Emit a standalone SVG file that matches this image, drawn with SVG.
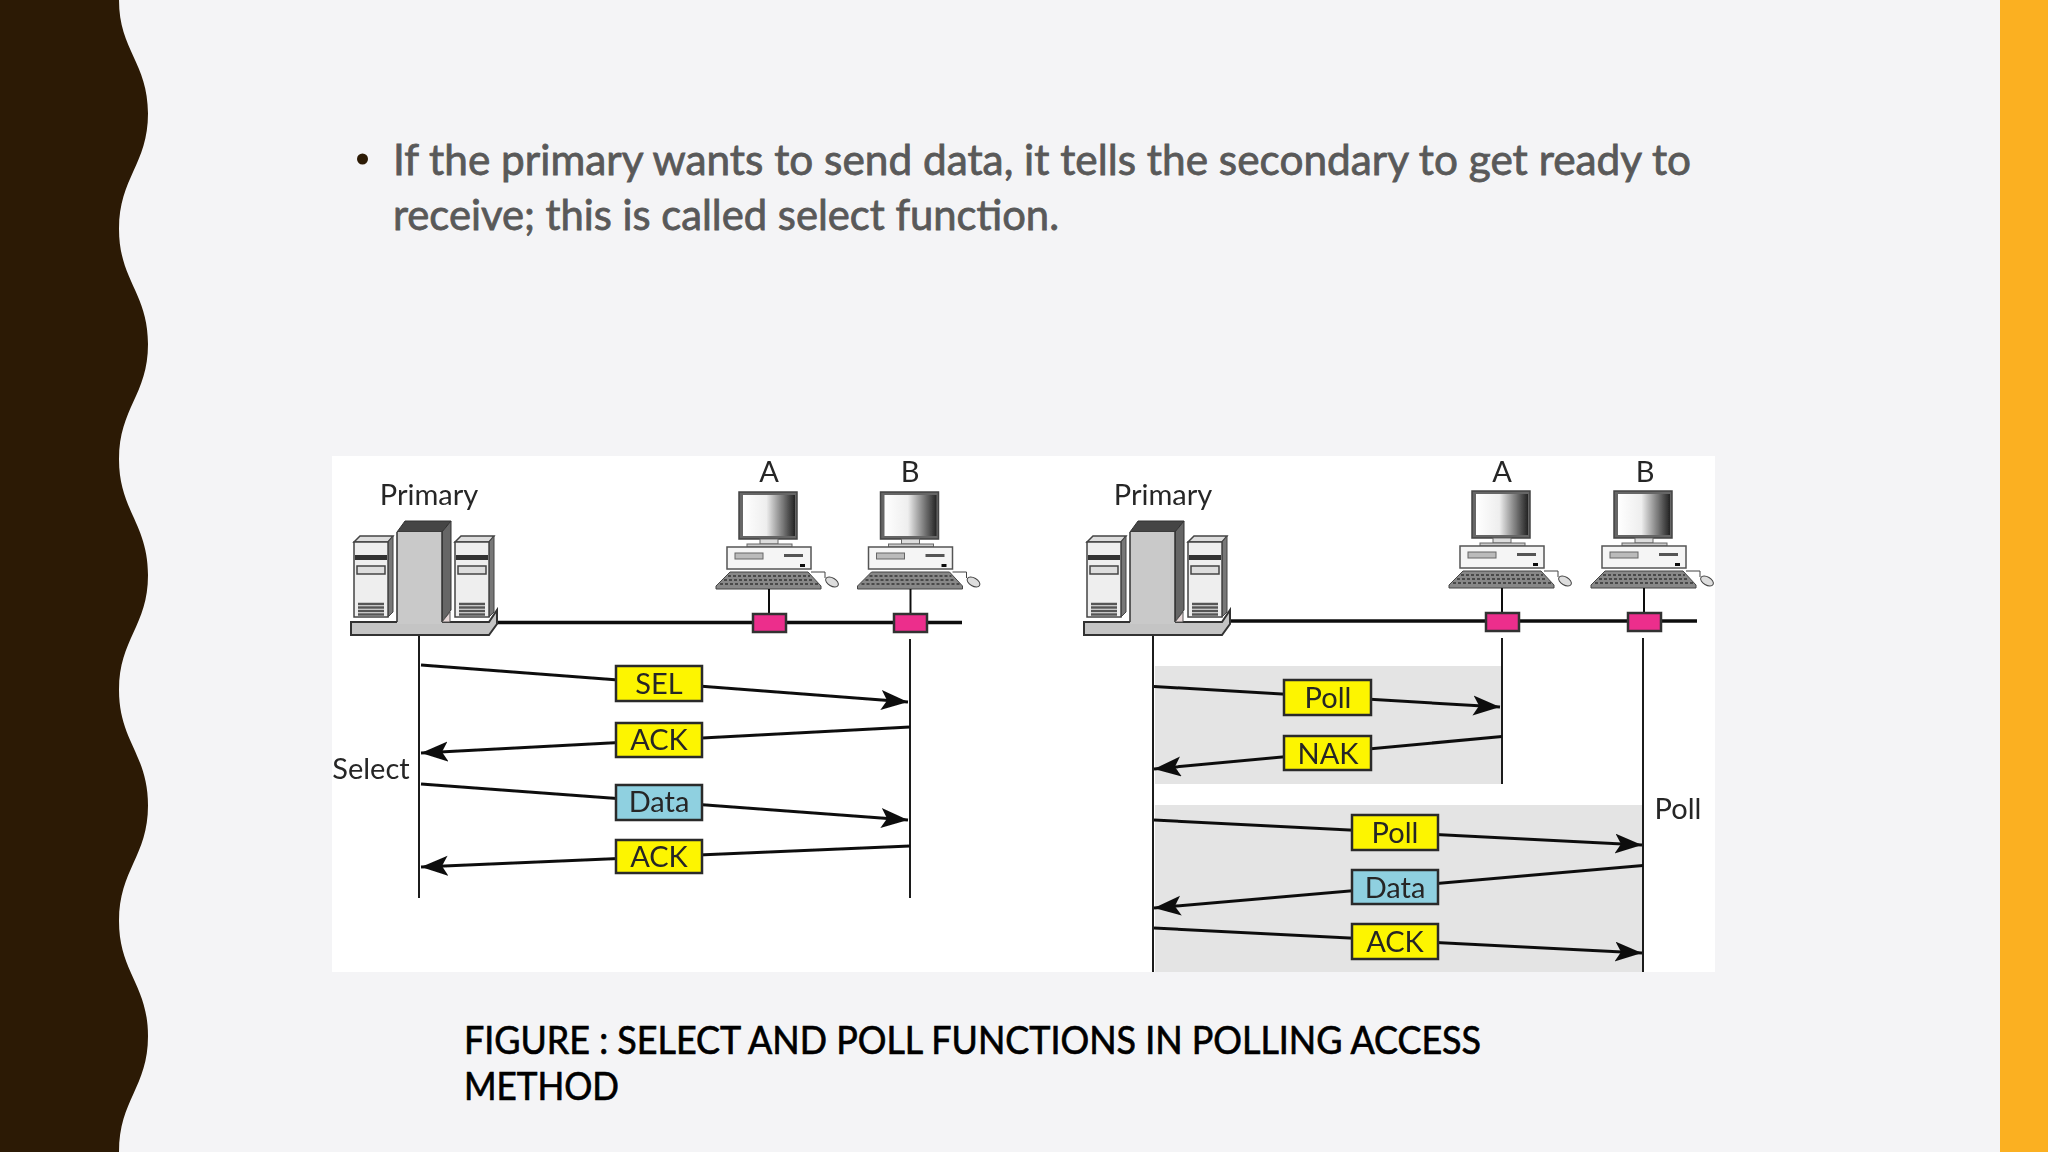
<svg xmlns="http://www.w3.org/2000/svg" xmlns:xlink="http://www.w3.org/1999/xlink" width="2048" height="1152" viewBox="0 0 2048 1152">
<style>
.lab{font-family:Lato,"Noto Sans",sans-serif;font-size:29px;fill:#262626;text-anchor:middle}
.ln{stroke:#1c1c1c;stroke-width:2;fill:none}
.arr{stroke:#111;stroke-width:3;fill:none;marker-end:url(#ah)}
.box{stroke:#2a2a2a;stroke-width:2.500}
.y{fill:#fdf500}.c{fill:#8fd0e0}
.pink{fill:#ec2f8c;stroke:#333;stroke-width:2.500}
.body{font-family:Lato,"Noto Sans",sans-serif;font-size:42px;fill:#595959;stroke:#595959;stroke-width:.8}
.cap{font-family:Lato,"Noto Sans",sans-serif;font-size:38px;fill:#000;stroke:#000;stroke-width:.7}
.soft{filter:url(#soft)}
</style>
<defs>
<filter id="soft" x="0" y="0" width="100%" height="100%"><feGaussianBlur stdDeviation="0.6"/></filter>
<marker id="ah" markerUnits="userSpaceOnUse" markerWidth="32" markerHeight="24" refX="27" refY="10" orient="auto"><path d="M0 0L27 10L0 20L6 10Z" fill="#111"/></marker>
<linearGradient id="scr"><stop offset="0" stop-color="#fff"/><stop offset=".45" stop-color="#eee"/><stop offset="1" stop-color="#222"/></linearGradient>
<g id="tower">
<path d="M0 6L6 0H39L34 6Z" fill="#ddd" stroke="#444" stroke-width="1.5"/>
<path d="M34 6L39 0V76L34 81Z" fill="#777" stroke="#444" stroke-width="1"/>
<rect y="6" width="34" height="75" fill="#eee" stroke="#444" stroke-width="1.5"/>
<rect x="1" y="19" width="32" height="5" fill="#333"/>
<rect x="3" y="30" width="28" height="8" fill="#ddd" stroke="#444" stroke-width="1.500"/>
<path d="M4 68H30M4 71.500H30M4 75H30M4 78.500H30" stroke="#555" stroke-width="2.500"/>
</g>
<g id="server">
<use href="#tower" x="354" y="536"/>
<use href="#tower" x="455" y="536"/>
<path d="M351 622H489L497 610V624L489 635H351Z" fill="#c4c4c4" stroke="#333" stroke-width="2"/>
<path d="M397 532L405 521H451L442 532Z" fill="#444" stroke="#333"/>
<path d="M442 532L451 521V610L442 622Z" fill="#666" stroke="#333"/>
<rect x="397" y="532" width="45" height="92" fill="#c9c9c9"/>
<path d="M397 532V622M442 532V622" stroke="#333" stroke-width="1.5"/>
<path d="M442 622L450 612V622Z" fill="#e8d8d8" stroke="#555"/>
</g>
<g id="pc">
<rect x="739" y="492" width="58" height="47" fill="#666" stroke="#444" stroke-width="1.5"/>
<rect x="743" y="495" width="52" height="41" fill="url(#scr)"/>
<rect x="760" y="539" width="18" height="5" fill="#ddd" stroke="#666"/>
<rect x="747" y="544" width="45" height="3" fill="#ccc" stroke="#666"/>
<rect x="727" y="547" width="84" height="22" fill="#f5f5f5" stroke="#555" stroke-width="1.5"/>
<rect x="735" y="553" width="28" height="6" fill="#bbb" stroke="#666"/>
<path d="M784 555.500H803" stroke="#555" stroke-width="3"/>
<rect x="800" y="564" width="5" height="3" fill="#111"/>
<path d="M730 572H808L821 586V589H716V586Z" fill="#888" stroke="#444"/>
<path d="M728 576H810M724 580H814M720 584H818" stroke="#333" stroke-width="1.5" stroke-dasharray="3 2"/>
<path d="M811 572H825V578" fill="none" stroke="#444" stroke-width="1"/>
<ellipse cx="832" cy="582" rx="7" ry="4" fill="#ddd" stroke="#444" transform="rotate(30 832 582)"/>
<path d="M769 589V614" stroke="#111" stroke-width="2"/>
</g>
</defs>
<rect width="2048" height="1152" fill="#f4f4f6"/>
<path id="wave" fill="#2c1a05" d="M0 0H119C119 50 148 63 148 113.500C148 164 119 178 119 229C119 280 148 293 148 344C148 395 119 408 119 459.500C119 510 148 524 148 575C148 626 119 639 119 690C119 741 148 754 148 805.500C148 856 119 870 119 921C119 972 148 985 148 1036C148 1087 119 1100 119 1152H0Z"/>
<rect id="bar" x="2000" width="48" height="1152" fill="#fbb021"/>
<circle cx="362.500" cy="159" r="5.500" fill="#2c1a05"/>
<text class="body" x="393" y="175" textLength="1298" lengthAdjust="spacingAndGlyphs">If the primary wants to send data, it tells the secondary to get ready to</text>
<text class="body" x="393" y="230" textLength="666" lengthAdjust="spacingAndGlyphs">receive; this is called select function.</text>
<rect id="figure" x="332" y="456" width="1383" height="516" fill="#fff"/>
<g class="soft">
<rect x="1155" y="666" width="347" height="118" fill="#e4e4e4"/>
<rect x="1155" y="805" width="488" height="167" fill="#e4e4e4"/>
<g id="connectors">
<path d="M494 622.500H962" stroke="#111" stroke-width="3.500"/>
<path d="M1228 621H1697" stroke="#111" stroke-width="3.500"/>
<path class="ln" d="M419 635V898M910 639V898M1153 635V972M1502 638V784M1643 638V972"/>
<path class="arr" d="M421 665L908 702"/>
<path class="arr" d="M910 727L421 753"/>
<path class="arr" d="M421 784L908 820"/>
<path class="arr" d="M910 846L421 867"/>
<path class="arr" d="M1154 686.500L1500 707"/>
<path class="arr" d="M1502 736.500L1154 769"/>
<path class="arr" d="M1154 820L1642 845"/>
<path class="arr" d="M1643 865.500L1154 908"/>
<path class="arr" d="M1154 928L1642 953"/>
</g>
<g id="primary-left"><use href="#server"/><text class="lab" x="429" y="505">Primary</text></g>
<g id="a-left"><use href="#pc"/><rect class="pink" x="753" y="614" width="33" height="18"/><text class="lab" x="769" y="482">A</text></g>
<g id="b-left"><use href="#pc" x="141.500"/><rect class="pink" x="894" y="614" width="33" height="18"/><text class="lab" x="910" y="482">B</text></g>
<text class="lab" x="371" y="779">Select</text>
<g id="sel"><rect class="box y" x="616" y="666" width="86" height="35"/><text class="lab" x="659" y="694">SEL</text></g>
<g id="ack1"><rect class="box y" x="616" y="723" width="86" height="34"/><text class="lab" x="659" y="750">ACK</text></g>
<g id="data1"><rect class="box c" x="616" y="785" width="86" height="35"/><text class="lab" x="659" y="812">Data</text></g>
<g id="ack2"><rect class="box y" x="616" y="840" width="86" height="33"/><text class="lab" x="659" y="867">ACK</text></g>
<g id="primary-right"><use href="#server" x="733"/><text class="lab" x="1163" y="505">Primary</text></g>
<g id="a-right"><use href="#pc" x="733" y="-1"/><rect class="pink" x="1486" y="613" width="33" height="18"/><text class="lab" x="1502" y="482">A</text></g>
<g id="b-right"><use href="#pc" x="875" y="-1"/><rect class="pink" x="1628" y="613" width="33" height="18"/><text class="lab" x="1645" y="482">B</text></g>
<text class="lab" x="1678" y="819">Poll</text>
<g id="poll1"><rect class="box y" x="1284" y="680" width="87" height="35"/><text class="lab" x="1328" y="708">Poll</text></g>
<g id="nak"><rect class="box y" x="1284" y="736" width="87" height="34"/><text class="lab" x="1328" y="764">NAK</text></g>
<g id="poll2"><rect class="box y" x="1352" y="815" width="86" height="35"/><text class="lab" x="1395" y="843">Poll</text></g>
<g id="data2"><rect class="box c" x="1352" y="870" width="86" height="34"/><text class="lab" x="1395" y="898">Data</text></g>
<g id="ack3"><rect class="box y" x="1352" y="924" width="86" height="35"/><text class="lab" x="1395" y="952">ACK</text></g>
</g>
<text class="cap" x="464" y="1054" textLength="1017" lengthAdjust="spacingAndGlyphs">FIGURE : SELECT AND POLL FUNCTIONS IN POLLING ACCESS</text>
<text class="cap" x="464" y="1100" textLength="155" lengthAdjust="spacingAndGlyphs">METHOD</text>
</svg>
